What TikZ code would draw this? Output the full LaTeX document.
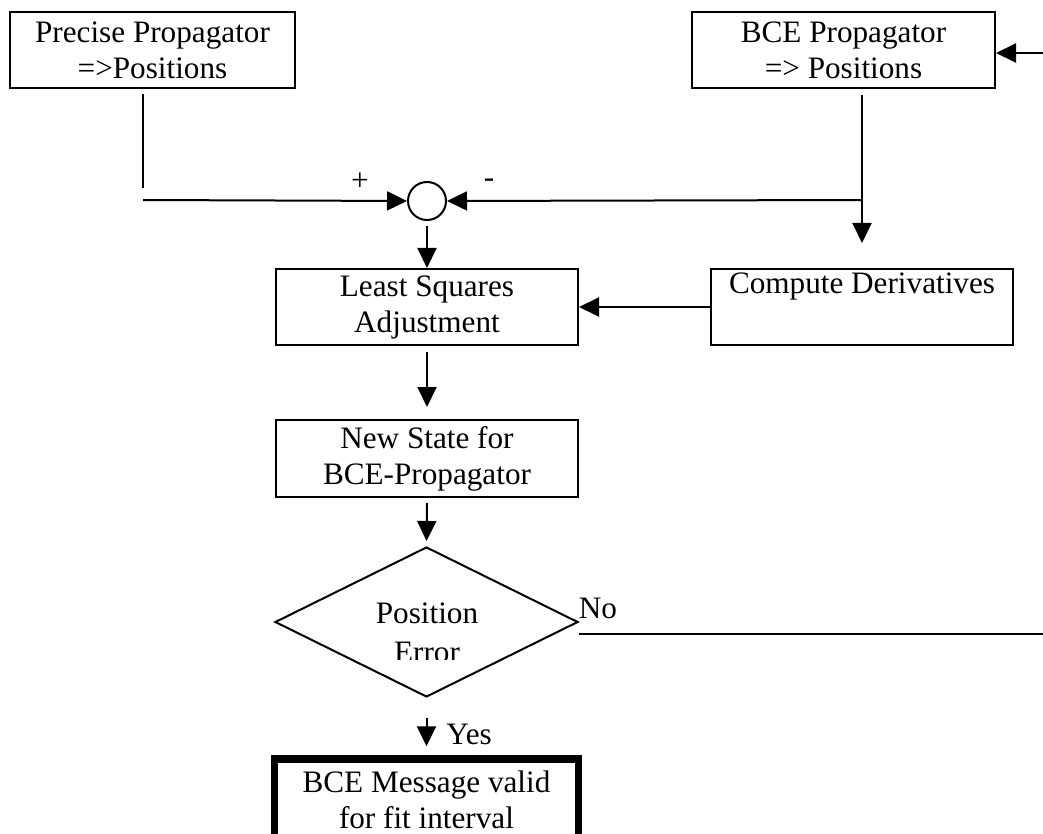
\documentclass[tikz,border=0pt]{standalone}
\usepackage{fontspec}
\setmainfont{Liberation Serif}
\usetikzlibrary{arrows.meta,shapes.geometric,calc}
\begin{document}
\begin{tikzpicture}[x=0.5pt,y=-0.5pt,
  every node/.style={font=\fontsize{15.6}{18}\selectfont},
  box/.style={draw,line width=1pt,rectangle,inner sep=0pt,align=center},
  arr/.style={line width=1pt,-{Triangle[length=10pt,width=9.5pt]}},
  ln/.style={line width=1pt},
  lbl/.style={inner sep=0pt}]
\clip (0,0) rectangle (1043,834);
\fill[white] (0,0) rectangle (1043,834);
% nodes
\node[box,minimum width=142.5pt,minimum height=38pt] (prec) at (152.5,50) {Precise Propagator\\=>Positions};
\node[box,minimum width=151.5pt,minimum height=38pt] (bce) at (843.5,50) {BCE Propagator\\=> Positions};
\node[draw,line width=1pt,circle,inner sep=0pt,minimum size=19pt] (sum) at (427,201) {};
\node[box,minimum width=151pt,minimum height=38pt] (lsq) at (427,307) {Least Squares\\Adjustment};
\node[box,minimum width=151pt,minimum height=38pt] (comp) at (862,307) {Compute Derivatives\\\strut};
\node[box,minimum width=151pt,minimum height=38.5pt] (new) at (427,458.5) {New State for\\BCE-Propagator};
\node[draw,line width=1pt,diamond,inner sep=0pt,minimum width=151.5pt,minimum height=75pt] (dec) at (426.5,622) {};
\node[draw,line width=3.75pt,rectangle,inner sep=0pt,align=center,minimum width=152pt,minimum height=41pt] (msg) at (426.5,800) {BCE Message valid\\for fit interval};
\begin{scope}
  \clip (250,540) rectangle (600,659);
  \node[lbl,anchor=base] (pos1) at (427,623) {Position};
  \node[lbl,anchor=base] (pos2) at (427,662) {Error};
\end{scope}
\node[lbl] (plus) at (360,182) {+};
\node[lbl] (minus) at (489,183) {-};
\node[lbl,anchor=base] (no) at (598,618) {No};
\node[lbl,anchor=base west] (yes) at (446,744) {Yes};
% coordinates
\coordinate (pB) at (143,188);
\coordinate (pC) at (143,200);
\coordinate (jR) at (862,200);
\coordinate (fB) at (1060,634);
\coordinate (fC) at (1060,53);
% connectors
\draw[ln] ([yshift=-2.5pt]prec.south -| pB) -- (pB);
\draw[arr] (pC) -- (sum.west);
\draw[arr] ([yshift=-3pt]bce.south -| jR) -- (jR) -- ([yshift=12.5pt]comp.north);
\draw[arr] (jR) -- (sum.east);
\draw[arr] ([yshift=-2.5pt]sum.south) -- (lsq.north);
\draw[arr] (comp.west) -- (lsq.east);
\draw[arr] ([yshift=-3pt]lsq.south) -- ([yshift=6pt]new.north);
\draw[arr] ([yshift=-2.5pt]new.south) -- ([yshift=2.5pt]dec.north);
\draw[arr] ([yshift=-10pt]dec.south) -- ([yshift=4.5pt]msg.north);
\draw[arr] ([yshift=-6pt]dec.east) -- (fB) -- (fC) -- (bce.east |- fC);
\end{tikzpicture}
\end{document}
